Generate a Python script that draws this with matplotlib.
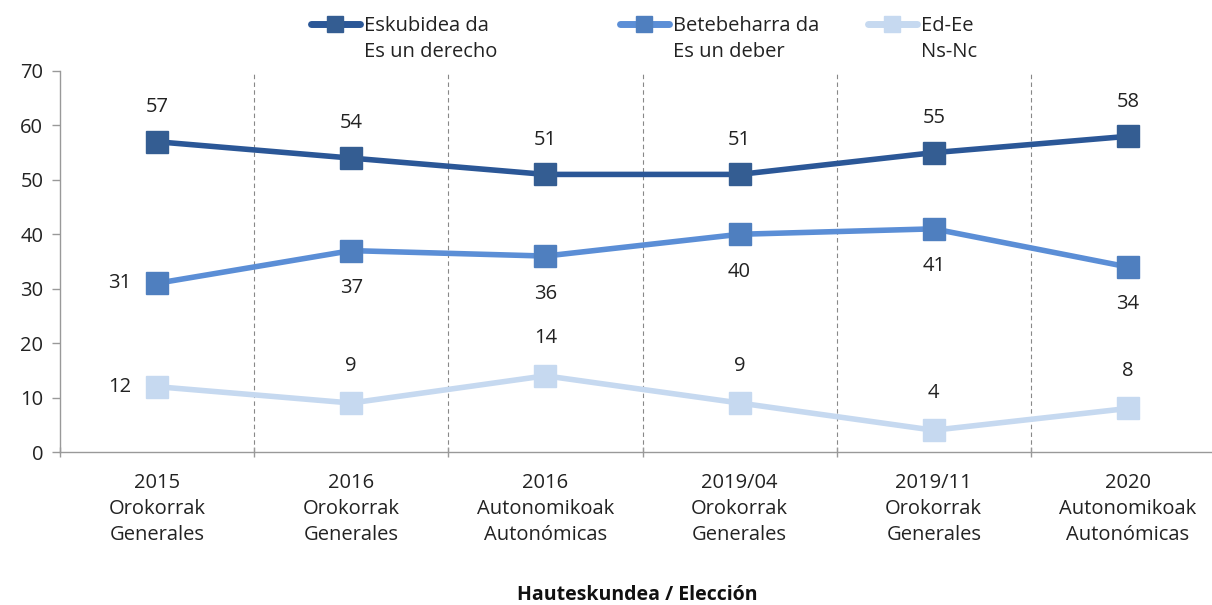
import matplotlib
matplotlib.use("Agg")
import matplotlib.pyplot as plt
from matplotlib.ticker import FixedLocator
from matplotlib.lines import Line2D

categories = ["2015\nOrokorrak\nGenerales", "2016\nOrokorrak\nGenerales",
              "2016\nAutonomikoak\nAutonómicas", "2019/04\nOrokorrak\nGenerales",
              "2019/11\nOrokorrak\nGenerales", "2020\nAutonomikoak\nAutonómicas"]
derecho = [57, 54, 51, 51, 55, 58]
deber = [31, 37, 36, 40, 41, 34]
nsnc = [12, 9, 14, 9, 4, 8]
labels_l1 = ["Eskubidea da", "Betebeharra da", "Ed-Ee"]
labels_l2 = ["Es un derecho", "Es un deber", "Ns-Nc"]

plt.rcParams['font.family'] = ['Open Sans', 'DejaVu Sans']
fs = 14.5
lfs = 14.5

fig = plt.figure(figsize=(12.12, 6.05), dpi=100)
W, H = 1212, 605
ax = fig.add_axes([60 / W, (H - 452) / H, (1225 - 60) / W, (452 - 71) / H])

x = list(range(len(categories)))
series = [
    (derecho, "#2B5797", "#345D92"),
    (deber, "#5B8ED6", "#4F7FBF"),
    (nsnc, "#C6D9F0", "#C6D9F0"),
]
for vals, lc, mc in series:
    ax.plot(x, vals, color=lc, lw=4.0, marker="s", markersize=15.5,
            markerfacecolor=mc, markeredgecolor=mc, solid_capstyle="round")

tc = "#222222"
def lab(i, v, dx, dy):
    ax.annotate(str(v), (i, v), xytext=(dx, dy), textcoords="offset points",
                ha="center", va="center", fontsize=fs, color=tc)

for i, v in enumerate(derecho):
    lab(i, v, 0, 25)
for i, v in enumerate(deber):
    if i == 0:
        lab(i, v, -27, 0)
    else:
        lab(i, v, 0, -27)
for i, v in enumerate(nsnc):
    if i == 0:
        lab(i, v, -27, 0)
    else:
        lab(i, v, 0, 27)

ax.set_xlim(-0.5, len(categories) - 0.5)
ax.set_ylim(0, 70)
ax.set_yticks(range(0, 71, 10))
ax.set_xticks(x)
ax.set_xticklabels(categories, fontsize=fs, color=tc, linespacing=1.42)
ax.tick_params(axis="x", length=0, pad=15)
ax.tick_params(axis="y", labelsize=fs, labelcolor=tc, length=6, color="#999999", width=1, pad=6)
bounds = [i + 0.5 for i in range(len(categories) - 1)]
ax.xaxis.set_minor_locator(FixedLocator(bounds + [-0.5]))
ax.tick_params(axis="x", which="minor", length=7, color="#999999", width=1, direction="inout")
for b in bounds:
    ax.axvline(b, color="#888888", lw=0.8, ls=(0, (4, 3)), zorder=0)

for s in ["top", "right"]:
    ax.spines[s].set_visible(False)
for s in ["left", "bottom"]:
    ax.spines[s].set_color("#999999")
    ax.spines[s].set_linewidth(1)

fig.text(637 / W, 1 - 595 / H, "Hauteskundea / Elección", ha="center", va="center",
         fontsize=14, fontweight="bold", color="#111111")

# legend: one entry per legend, first line next to handle, second line below
text_x = [364, 673, 921]
fs_px = lfs * 100 / 72
hl, htp = 2.45, 0.2
for (vals, lc, mc), l1, l2, tx in zip(series, labels_l1, labels_l2, text_x):
    h = Line2D([], [], color=lc, lw=5, marker="s", markersize=11,
               markerfacecolor=mc, markeredgecolor=mc, solid_capstyle="round")
    x0 = tx - (hl + htp) * fs_px
    lg = fig.legend([h], [l1], loc="center left", bbox_to_anchor=(x0 / W, 1 - 26 / H),
                    frameon=False, fontsize=lfs, handlelength=hl, handletextpad=htp,
                    borderpad=0, borderaxespad=0)
    for t in lg.get_texts():
        t.set_color(tc)
    fig.text(tx / W, 1 - 52 / H, l2, ha="left", va="center", fontsize=lfs, color=tc)

fig.savefig("out.png", dpi=100)
